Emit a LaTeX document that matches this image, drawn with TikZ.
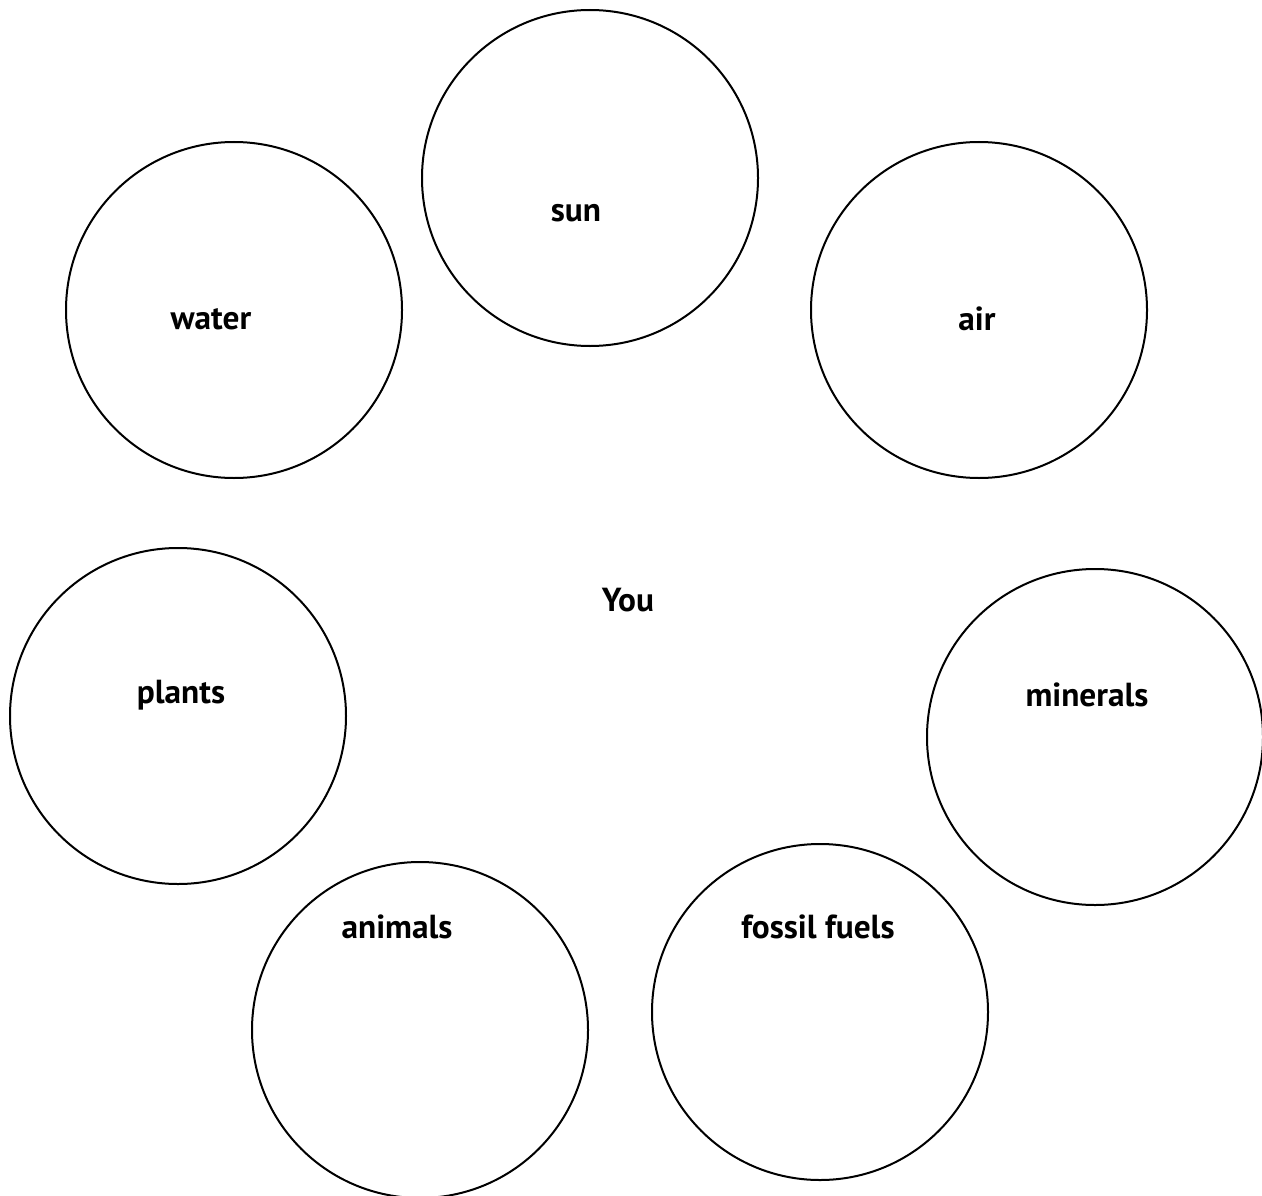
\documentclass[tikz,border=0pt]{standalone}
\usepackage{fontspec}
\setmainfont{PT Sans}
\usepackage{tikz}
\usetikzlibrary{positioning}

\begin{document}
\begin{tikzpicture}[
    x=0.75pt,y=-0.75pt,
    res/.style={draw,circle,line width=1.5pt,minimum size=252pt,inner sep=0pt},
    lbl/.style={font=\fontsize{25}{28}\selectfont\bfseries}
]
\useasboundingbox (0,0) rectangle (1262,1195);
% resource circles
\node[res] (sun) at (590,178) {};
\node[res] (water) at (234,310) {};
\node[res] (air) at (979,310) {};
\node[res] (plants) at (178,716) {};
\node[res] (minerals) at (1095,737) {};
\node[res] (animals) at (420,1030) {};
\node[res] (fossil) at (820,1012) {};
% labels
\node[lbl] (sunlbl) at (576,213) {sun};
\node[lbl] (waterlbl) at (211,319) {water};
\node[lbl] (airlbl) at (977,319) {air};
\node[lbl] (you) at (628,600) {You};
\node[lbl] (plantslbl) at (181,695) {plants};
\node[lbl] (mineralslbl) at (1087,695) {minerals};
\node[lbl] (animalslbl) at (397,927) {animals};
\node[lbl] (fossillbl) at (818,927) {fossil fuels};
\end{tikzpicture}
\end{document}
